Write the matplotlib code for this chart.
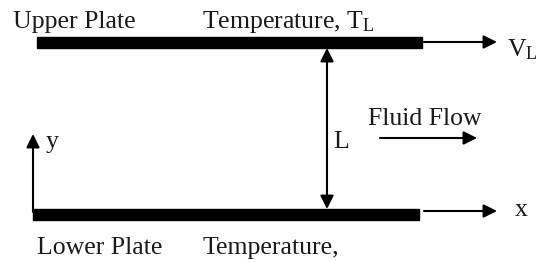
"""
Couette flow sketch: two parallel plates, moving upper plate, fluid flow between.
"""
import matplotlib
matplotlib.use("Agg")
import matplotlib.pyplot as plt
from matplotlib.patches import Rectangle

plt.rcParams['font.family'] = 'Liberation Serif'
plt.rcParams['mathtext.fontset'] = 'custom'
plt.rcParams['mathtext.rm'] = 'Liberation Serif'
plt.rcParams['mathtext.it'] = 'Liberation Serif'

# plates: (x, y_top, width, thickness) in pixel units of the sketch
upper_plate = (37, 37, 385, 11)
lower_plate = (33, 209, 386, 11)

# arrows: (start, end)
arrows = {
    'upper_velocity': ((424, 42), (497, 42)),
    'x_axis': ((424, 211), (497, 211)),
    'fluid_flow': ((380, 138), (477, 138)),
    'y_axis': ((33, 212), (33, 134)),
}
gap_arrow_x = 327
gap_arrow_y = (48, 209)

# labels: (x, baseline y, text)
labels = [
    (13, 28, 'Upper Plate'),
    (202, 28, r'Temperature, T$_{\mathrm{L}}$'),
    (507, 56, r'V$_{\mathrm{L}}$'),
    (368, 125, 'Fluid Flow'),
    (333, 148, 'L'),
    (46, 148, 'y'),
    (515, 216, 'x'),
    (37, 254, 'Lower Plate'),
    (203, 254, 'Temperature,'),
]

fig = plt.figure(figsize=(5.37, 2.62), dpi=100)
ax = fig.add_axes([0, 0, 1, 1])
ax.set_xlim(0, 537)
ax.set_ylim(262, 0)
ax.axis('off')

for x, y, w, h in (upper_plate, lower_plate):
    ax.add_patch(Rectangle((x, y), w, h, facecolor='black', edgecolor='black'))

arrow_style = dict(arrowstyle='-|>', mutation_scale=20, lw=1.5, color='black',
                   shrinkA=0, shrinkB=0)
for start, end in arrows.values():
    ax.annotate('', xy=end, xytext=start, arrowprops=arrow_style)

ax.annotate('', xy=(gap_arrow_x, gap_arrow_y[0]), xytext=(gap_arrow_x, gap_arrow_y[1]),
            arrowprops=dict(arrow_style, arrowstyle='<|-|>'))

for x, y, txt in labels:
    ax.text(x, y, txt, ha='left', va='baseline', fontsize=18.5, color='#1a1a1a')

fig.savefig('out.png', dpi=100)
